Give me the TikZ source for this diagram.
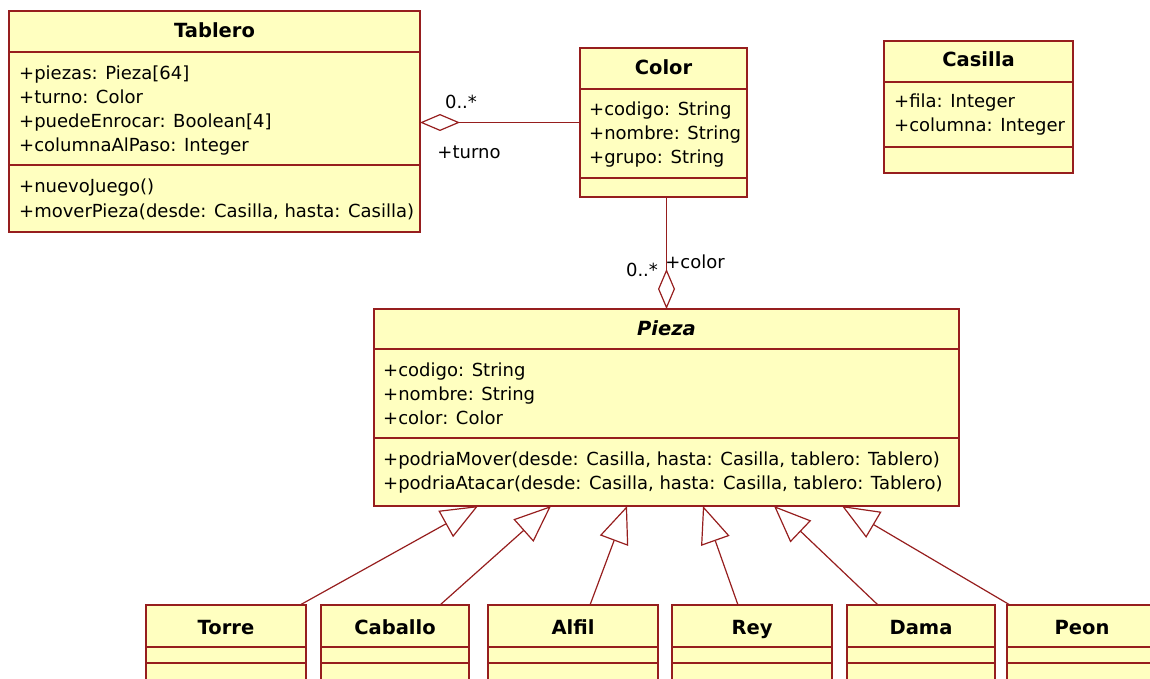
\documentclass[tikz,border=0pt]{standalone}
\usepackage{fontspec}
\setmainfont{DejaVu Sans}
\usetikzlibrary{arrows.meta}

\definecolor{umlred}{RGB}{150,30,30}
\definecolor{umlfill}{RGB}{255,255,192}

\tikzset{
  umlbox/.style={draw=umlred, fill=umlfill, line width=1.5pt, inner sep=0pt, outer sep=0pt, anchor=north west},
  umlsep/.style={draw=umlred, line width=1.5pt},
  umltitle/.style={font=\fontsize{19.5}{24}\selectfont\bfseries, inner sep=0pt, anchor=base},
  umlrow/.style={font=\fontsize{18}{24}\selectfont, inner sep=0pt, anchor=base west},
  rolelabel/.style={font=\fontsize{18}{24}\selectfont, inner sep=0pt},
  assoc/.style={draw=umlred, line width=1.2pt},
  inherit/.style={assoc, -{Triangle[open, length=37pt, width=30pt]}},
  aggreg/.style={assoc, {Diamond[open, length=40pt, width=17pt]}-},
}

\begin{document}
\begin{tikzpicture}[x=1pt, y=-1pt]
  \useasboundingbox (0,0) rectangle (1150,679);
  \clip (0,0) rectangle (1150,679);

  % Tablero
  \node[umlbox, minimum width=411, minimum height=221] (tablero) at (9,11) {};
  \draw[umlsep] ([yshift=-41pt]tablero.north west) -- ([yshift=-41pt]tablero.north east)
                ([yshift=-154pt]tablero.north west) -- ([yshift=-154pt]tablero.north east);
  \node[umltitle] (tablero-name) at (214.5,38) {Tablero};
  \foreach \row [count=\i from 0] in {+piezas: Pieza[64], +turno: Color,
      +puedeEnrocar: Boolean[4], +columnaAlPaso: Integer}
    \node[umlrow] (tablero-attr\i) at (19,{80+24*\i}) {\row};
  \foreach \row [count=\i from 0] in {+nuevoJuego(), {+moverPieza(desde: Casilla, hasta: Casilla)}}
    \node[umlrow] (tablero-op\i) at (19,{193+24*\i}) {\row};

  % Color
  \node[umlbox, minimum width=167, minimum height=149] (color) at (580,48) {};
  \draw[umlsep] ([yshift=-41pt]color.north west) -- ([yshift=-41pt]color.north east)
                ([yshift=-130pt]color.north west) -- ([yshift=-130pt]color.north east);
  \node[umltitle] (color-name) at (663.5,75) {Color};
  \foreach \row [count=\i from 0] in {+codigo: String, +nombre: String, +grupo: String}
    \node[umlrow] (color-attr\i) at (589,{116+24*\i}) {\row};

  % Casilla
  \node[umlbox, minimum width=189, minimum height=132] (casilla) at (884,41) {};
  \draw[umlsep] ([yshift=-41pt]casilla.north west) -- ([yshift=-41pt]casilla.north east)
                ([yshift=-106pt]casilla.north west) -- ([yshift=-106pt]casilla.north east);
  \node[umltitle] (casilla-name) at (978.5,67) {Casilla};
  \foreach \row [count=\i from 0] in {+fila: Integer, +columna: Integer}
    \node[umlrow] (casilla-attr\i) at (894,{108+24*\i}) {\row};

  % Pieza (abstracta)
  \node[umlbox, minimum width=585, minimum height=197] (pieza) at (374,309) {};
  \draw[umlsep] ([yshift=-40pt]pieza.north west) -- ([yshift=-40pt]pieza.north east)
                ([yshift=-129pt]pieza.north west) -- ([yshift=-129pt]pieza.north east);
  \node[umltitle, font=\fontsize{19.5}{24}\selectfont\bfseries\itshape] (pieza-name) at (666.5,335) {Pieza};
  \foreach \row [count=\i from 0] in {+codigo: String, +nombre: String, +color: Color}
    \node[umlrow] (pieza-attr\i) at (383,{376+24*\i}) {\row};
  \foreach \row [count=\i from 0] in {{+podriaMover(desde: Casilla, hasta: Casilla, tablero: Tablero)},
      {+podriaAtacar(desde: Casilla, hasta: Casilla, tablero: Tablero)}}
    \node[umlrow] (pieza-op\i) at (383,{465+24*\i}) {\row};

  % asociaciones
  \draw[aggreg] (tablero.east |- color.west) -- (color.west);
  \node[rolelabel] (turno-mult) at (461,102) {0..*};
  \node[rolelabel] (turno-role) at (469,152) {+turno};
  \draw[aggreg] (pieza.north) -- (pieza.north |- color.south);
  \node[rolelabel] (color-mult) at (642,270) {0..*};
  \node[rolelabel] (color-role) at (695,262) {+color};

  % subclases de Pieza
  \foreach \cname/\xa/\xb/\xs/\xe in {Torre/146/306/154/104, Caballo/321/469/119/177,
      Alfil/488/658/102/253, Rey/672/832/66/329, Dama/847/995/31/400, Peon/1007/1157/3/468} {
    \node[umlbox, minimum width={\xb-\xa}, minimum height=100] (\cname) at (\xa,605) {};
    \draw[umlsep] ([yshift=-42pt]\cname.north west) -- ([yshift=-42pt]\cname.north east)
                  ([yshift=-58pt]\cname.north west) -- ([yshift=-58pt]\cname.north east);
    \node[umltitle] (\cname-name) at ({(\xa+\xb)/2},634) {\cname};
    \draw[inherit] ([xshift=\xs pt]\cname.north west) -- ([xshift=\xe pt]pieza.south west);
  }
\end{tikzpicture}
\end{document}
